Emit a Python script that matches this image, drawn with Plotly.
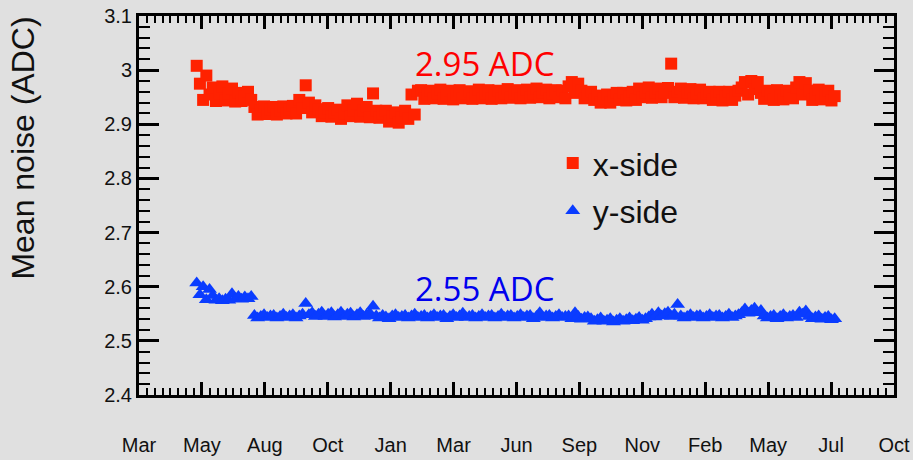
import numpy as np
import plotly.graph_objects as go

# ---------------- data ----------------
TICK_STEP_DAYS = 78.5
TICK_LABELS = ["Mar", "May", "Aug", "Oct", "Jan", "Mar", "Jun", "Sep", "Nov",
               "Feb", "May", "Jul", "Oct"]
START_DAY = 72          # first measurement (days after first tick)
SAMPLE_STEP = 4         # days between plotted samples

X_SIDE = [
    3.008, 2.975, 2.945, 2.990, 2.955,
    2.968, 2.943, 2.956, 2.970, 2.944, 2.957, 2.966, 2.942,
    2.958, 2.943, 2.952, 2.960, 2.945,
    2.932, 2.918, 2.926, 2.933, 2.919, 2.927, 2.932, 2.918, 2.925, 2.933,
    2.920, 2.928, 2.934, 2.920,
    2.945, 2.930, 2.972, 2.940, 2.922, 2.935,
    2.928, 2.915, 2.922, 2.930, 2.914, 2.922, 2.927, 2.910, 2.920,
    2.935, 2.915, 2.926, 2.938, 2.914, 2.925, 2.932, 2.913,
    2.957,
    2.925, 2.912, 2.920, 2.925, 2.905, 2.915, 2.922, 2.903, 2.913, 2.925, 2.910,
    2.955, 2.918, 2.962,
    2.963, 2.947, 2.955, 2.962, 2.948, 2.956, 2.964, 2.947, 2.954, 2.962,
    2.946, 2.955, 2.963, 2.948, 2.956, 2.961, 2.947, 2.955, 2.964, 2.948,
    2.956, 2.963, 2.947, 2.954, 2.962, 2.948, 2.956, 2.965, 2.949, 2.957,
    2.963, 2.948, 2.955, 2.964, 2.949, 2.957, 2.966, 2.950, 2.958, 2.964,
    2.948, 2.956, 2.963, 2.950,
    2.962, 2.948, 2.970, 2.978, 2.958, 2.975,
    2.962, 2.948, 2.955, 2.960, 2.945,
    2.953, 2.940, 2.948, 2.955, 2.940,
    2.952, 2.958, 2.945,
    2.958, 2.944, 2.952, 2.960, 2.945,
    2.966, 2.950, 2.958, 2.968, 2.949, 2.959, 2.966, 2.950, 2.958, 2.967,
    3.012,
    2.950, 2.960, 2.966, 2.949, 2.958, 2.965, 2.948, 2.957, 2.964, 2.948, 2.956,
    2.960, 2.945, 2.953, 2.960, 2.944, 2.952, 2.960, 2.945, 2.953, 2.962,
    2.968, 2.978, 2.955, 2.980, 2.965, 2.978, 2.958,
    2.947, 2.962, 2.955, 2.945, 2.963, 2.953, 2.946, 2.962, 2.954, 2.948,
    2.968, 2.978, 2.955, 2.976,
    2.962, 2.945, 2.955, 2.964, 2.946, 2.954, 2.962, 2.944, 2.952,
]

Y_SIDE_EARLY = [
    2.607, 2.585, 2.600, 2.576, 2.595, 2.584, 2.575, 2.578, 2.574, 2.577,
    2.575, 2.587, 2.578, 2.582, 2.577, 2.581, 2.578, 2.582,
]
Y_SIDE_LATE = [
    2.547, 2.542, 2.545, 2.548, 2.543, 2.546, 2.547, 2.542, 2.545, 2.549,
    2.543, 2.546, 2.548, 2.542, 2.546, 2.549,
    2.569,
    2.548, 2.552, 2.545, 2.549, 2.553, 2.545, 2.549, 2.552, 2.544, 2.548,
    2.553, 2.545, 2.549, 2.551, 2.544, 2.548, 2.552, 2.545, 2.548, 2.551,
    2.564,
    2.546, 2.542, 2.547, 2.544, 2.541, 2.546, 2.548, 2.543, 2.545, 2.547,
    2.542, 2.546, 2.549, 2.543, 2.545, 2.547, 2.542, 2.545, 2.548, 2.543,
    2.546, 2.547, 2.541, 2.545, 2.548, 2.543, 2.546, 2.551, 2.543, 2.545,
    2.547, 2.542, 2.545, 2.548, 2.543, 2.546, 2.547, 2.542, 2.545, 2.549,
    2.543, 2.546, 2.547, 2.542, 2.545, 2.548, 2.543, 2.546, 2.547, 2.541,
    2.545, 2.552, 2.543, 2.546, 2.547, 2.542, 2.545, 2.548, 2.543, 2.545,
    2.546, 2.541, 2.552, 2.545, 2.540, 2.543, 2.544,
    2.541, 2.536, 2.539, 2.542, 2.536, 2.538, 2.541, 2.535, 2.538, 2.541,
    2.536, 2.539, 2.542, 2.537, 2.540, 2.543, 2.538, 2.541, 2.544,
    2.549, 2.544, 2.552, 2.546, 2.550, 2.553, 2.545, 2.549,
    2.567,
    2.546, 2.542, 2.545, 2.548, 2.543, 2.546, 2.547, 2.542, 2.545, 2.548,
    2.543, 2.546, 2.547, 2.542, 2.545, 2.549, 2.543, 2.546, 2.548,
    2.552, 2.559, 2.551, 2.556, 2.560, 2.552, 2.556,
    2.546, 2.542, 2.545, 2.547, 2.541, 2.545, 2.548, 2.542, 2.545, 2.547, 2.543,
    2.553, 2.549, 2.555,
    2.545, 2.541, 2.544, 2.546, 2.540, 2.543, 2.545, 2.539, 2.541,
]

X_LABEL_TEXT = "2.95 ADC"
Y_LABEL_TEXT = "2.55 ADC"
X_LABEL_POS = (431, 3.013)
Y_LABEL_POS = (431, 2.596)

# ---------------- derived ----------------
x_days = START_DAY + SAMPLE_STEP * np.arange(len(X_SIDE))
y_vals = Y_SIDE_EARLY + Y_SIDE_LATE
y_days = START_DAY + SAMPLE_STEP * np.arange(len(y_vals))
tickvals = [i * TICK_STEP_DAYS for i in range(len(TICK_LABELS))]

BG = "#e0e0e0"
RED = "#ff2200"
BLUE = "#0a3cff"

fig = go.Figure()
fig.add_trace(go.Scatter(
    x=x_days, y=X_SIDE, mode="markers", name="x-side", legendgroup="x",
    marker=dict(symbol="square", size=12, color=RED, line=dict(width=0)),
))
fig.add_trace(go.Scatter(
    x=y_days, y=y_vals, mode="markers", name="y-side", legendgroup="y",
    marker=dict(symbol="triangle-up", size=13, color=BLUE, line=dict(width=0)),
))

axis_common = dict(
    showline=True, linewidth=3, linecolor="black", mirror="allticks",
    ticks="inside", tickcolor="black", showgrid=False, zeroline=False,
    automargin=False,
)

fig.update_xaxes(
    **axis_common,
    range=[tickvals[0] - 0.01, tickvals[-1] + 0.01],
    tickmode="array", tickvals=tickvals, ticktext=TICK_LABELS,
    ticklen=13, tickwidth=2.5,
    minor=dict(ticks="inside", ticklen=7, tickwidth=2, tickcolor="black",
               dtick=TICK_STEP_DAYS / 8, showgrid=False),
    tickfont=dict(family="Liberation Sans, Arial", size=20, color="#111111"),
    ticklabelstandoff=30,
)
fig.update_yaxes(
    **axis_common,
    range=[2.4, 3.1], dtick=0.1, tick0=2.4,
    ticklen=20, tickwidth=2.5,
    minor=dict(ticks="inside", ticklen=11, tickwidth=2, tickcolor="black",
               dtick=0.02, showgrid=False),
    tickfont=dict(family="Liberation Sans, Arial", size=20, color="#111111"),
)

fig.add_annotation(x=X_LABEL_POS[0], y=X_LABEL_POS[1], xref="x", yref="y",
                   text=X_LABEL_TEXT, showarrow=False,
                   font=dict(family="Open Sans", size=33, color="#ff0000"))
fig.add_annotation(x=Y_LABEL_POS[0], y=Y_LABEL_POS[1], xref="x", yref="y",
                   text=Y_LABEL_TEXT, showarrow=False,
                   font=dict(family="Open Sans", size=33, color="#0000ee"))
fig.add_annotation(x=-0.154, y=0.652, xref="paper", yref="paper",
                   text="Mean noise (ADC)", showarrow=False, textangle=-90,
                   xanchor="center", yanchor="middle",
                   font=dict(family="Liberation Sans, Arial", size=32, color="#111111"))

fig.update_layout(
    width=913, height=460,
    margin=dict(l=139, r=19, t=16, b=65),
    paper_bgcolor=BG, plot_bgcolor=BG,
    showlegend=True,
    legend=dict(x=0.548, y=0.684, xanchor="left", yanchor="top",
                bgcolor="rgba(0,0,0,0)", borderwidth=0,
                traceorder="grouped", tracegroupgap=3,
                font=dict(family="Liberation Sans, Arial", size=32, color="#111111")),
)

fig.write_html("out.html")
